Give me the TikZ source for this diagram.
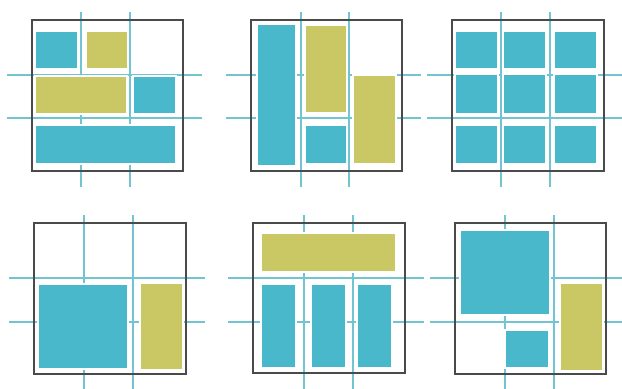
\documentclass[tikz,border=0pt]{standalone}
\usetikzlibrary{calc}
\definecolor{cblue}{HTML}{4AB8CB}
\definecolor{cyell}{HTML}{C9C865}
\definecolor{cguide}{HTML}{72C4D1}
\definecolor{cframe}{HTML}{4A4A4A}
\tikzset{
  every picture/.style={x=0.03cm, y=-0.03cm},
  guide/.style={draw=cguide, line width=1.2pt},
  frame/.style={draw=cframe, line width=1.2pt},
  tile/.style={fill=#1, draw=white, line width=1.6pt},
  tile/.default=cblue,
}
\newcommand{\gridpanel}[8]{% x0, y0, x1, y1, vx1, vx2, hy1, hy2
  \foreach \v in {#5,#6} \draw[guide] (\v,#2-8) -- (\v,#4+16);
  \foreach \h in {#7,#8} \draw[guide] (#1-25,\h) -- (#3+19,\h);}
\newcommand{\frameit}[4]{\draw[frame] (#1,#2) rectangle (#3,#4);}
\newcommand{\blk}[5]{\draw[tile=#5] (#1,#2) rectangle (#3,#4);}

\begin{document}
\begin{tikzpicture}
  \useasboundingbox (0,0) rectangle (622,388);
  % top row
  \gridpanel{32}{20}{183}{171}{81}{130}{75}{118}
  \blk{35}{31}{78}{69}{cblue}
  \blk{86}{31}{128}{69}{cyell}
  \blk{35}{76}{127}{114}{cyell}
  \blk{133}{76}{176}{114}{cblue}
  \blk{35}{125}{176}{164}{cblue}
  \frameit{32}{20}{183}{171}

  \gridpanel{251}{20}{402}{171}{301}{349}{75}{118}
  \blk{257}{24}{296}{166}{cblue}
  \blk{305}{25}{347}{113}{cyell}
  \blk{305}{125}{347}{164}{cblue}
  \blk{353}{75}{396}{164}{cyell}
  \frameit{251}{20}{402}{171}

  \gridpanel{452}{20}{604}{171}{501}{550}{75}{118}
  \foreach \xa/\xb in {455/498, 503/546, 554/597} {
    \foreach \ya/\yb in {31/69, 74/114, 125/164} {
      \blk{\xa}{\ya}{\xb}{\yb}{cblue}
    }
  }
  \frameit{452}{20}{604}{171}

  % bottom row
  \gridpanel{34}{223}{186}{374}{84}{133}{278}{322}
  \blk{38}{284}{128}{369}{cblue}
  \blk{140}{283}{183}{370}{cyell}
  \frameit{34}{223}{186}{374}

  \gridpanel{253}{223}{405}{373}{304}{353}{278}{322}
  \blk{261}{233}{396}{272}{cyell}
  \foreach \xa/\xb in {261/296, 311/346, 357/392} {
    \blk{\xa}{284}{\xb}{368}{cblue}
  }
  \frameit{253}{223}{405}{373}

  \gridpanel{455}{223}{606}{374}{505}{554}{278}{322}
  \blk{460}{230}{550}{315}{cblue}
  \blk{505}{330}{549}{368}{cblue}
  \blk{560}{283}{603}{371}{cyell}
  \frameit{455}{223}{606}{374}
\end{tikzpicture}
\end{document}
